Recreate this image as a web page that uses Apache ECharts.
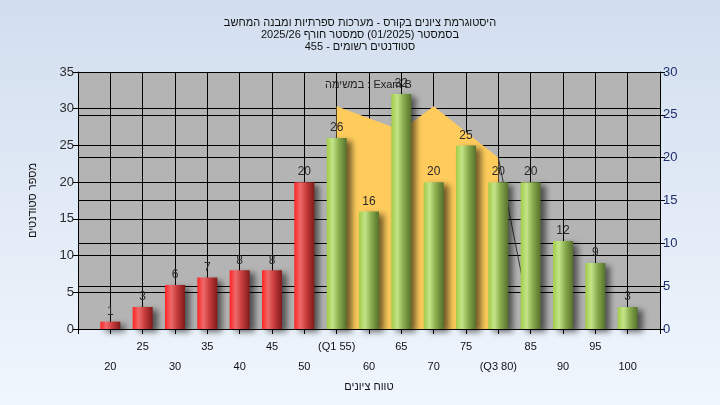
<!DOCTYPE html>
<html>
<head>
<meta charset="utf-8">
<script src="https://cdn.jsdelivr.net/npm/echarts@6/dist/echarts.min.js"></script>
<style>
  html, body { margin: 0; padding: 0; }
  #chart { width: 720px; height: 405px; }
</style>
</head>
<body>
<div id="chart"></div>
<script>
// כותרת
const titleLines = [
  'היסטוגרמת ציונים בקורס - מערכות ספרתיות ומבנה המחשב',
  'בסמסטר (01/2025) סמסטר חורף 2025/26',
  'סטודנטים רשומים - 455'
]
// טווחי ציונים ותוויות ציר X
const scores = [20, 25, 30, 35, 40, 45, 50, 55, 60, 65, 70, 75, 80, 85, 90, 95, 100]
const scoreLabels = ['20', '25', '30', '35', '40', '45', '50', '(Q1 55)', '60', '65', '70', '75', '(Q3 80)', '85', '90', '95', '100']
// מספר סטודנטים בכל טווח
const students = [1, 3, 6, 7, 8, 8, 20, 26, 16, 32, 20, 25, 20, 20, 12, 9, 3]
const passScore = 55
// Exam B (ציר ימני)
const examName = 'במשימה : Exam B'
const examScores = [55, 65, 70, 80]
const examValues = [26, 23.2, 26, 20]
const tailScores = [80, 85]
const tailValues = [20, 1]

const font = "'Liberation Sans', 'DejaVu Sans', sans-serif"

const redBar = new echarts.graphic.LinearGradient(0, 0, 1, 0, [
  { offset: 0, color: '#ff2424' },
  { offset: 0.3, color: '#ee6a6a' },
  { offset: 0.6, color: '#c83c3c' },
  { offset: 1, color: '#7e1a1a' }
])
const greenBar = new echarts.graphic.LinearGradient(0, 0, 1, 0, [
  { offset: 0, color: '#a2cc48' },
  { offset: 0.3, color: '#c4e488' },
  { offset: 0.6, color: '#8aae4e' },
  { offset: 1, color: '#56702c' }
])

const chart = echarts.init(document.getElementById('chart'))
chart.setOption({
  backgroundColor: new echarts.graphic.LinearGradient(0, 0, 0, 1, [
    { offset: 0, color: '#d2deef' },
    { offset: 1, color: '#f0f6fd' }
  ]),
  textStyle: { fontFamily: font },
  animation: false,
  title: {
    text: titleLines.join('\n'),
    left: 'center',
    top: 12,
    textStyle: { fontSize: 11, fontWeight: 'normal', color: '#111', lineHeight: 12, fontFamily: font }
  },
  legend: {
    data: [{ name: examName, icon: 'none' }],
    left: 315,
    top: 73,
    itemWidth: 0,
    selectedMode: false,
    textStyle: { fontSize: 11, color: '#222', fontFamily: font }
  },
  grid: {
    left: 78,
    right: 60,
    top: 72,
    bottom: 76,
    show: true,
    backgroundColor: '#b4b4b4',
    borderWidth: 0
  },
  xAxis: {
    type: 'value',
    min: 15,
    max: 105,
    interval: 5,
    name: 'טווח ציונים',
    nameLocation: 'middle',
    nameGap: 45,
    nameTextStyle: { fontSize: 11, color: '#111' },
    axisLine: { lineStyle: { color: '#000', width: 1 } },
    axisTick: { length: 5, lineStyle: { color: '#000' } },
    splitLine: { show: true, lineStyle: { color: '#000', width: 1 } },
    axisLabel: {
      margin: 8,
      fontSize: 11,
      lineHeight: 20,
      color: '#111',
      formatter: function (v) {
        const i = scores.indexOf(v)
        if (i < 0) return ''
        return i % 2 === 1 ? scoreLabels[i] : '\n' + scoreLabels[i]
      }
    }
  },
  yAxis: [
    {
      type: 'value',
      min: 0,
      max: 35,
      interval: 5,
      name: 'מספר סטודנטים',
      nameLocation: 'middle',
      nameGap: 40,
      nameTextStyle: { fontSize: 11, color: '#111' },
      axisLine: { show: true, lineStyle: { color: '#000' } },
      axisTick: { show: true, length: 5, lineStyle: { color: '#000' } },
      splitLine: { lineStyle: { color: '#000', width: 1 } },
      axisLabel: { fontSize: 13, color: '#2a2a2a', margin: 4 }
    },
    {
      type: 'value',
      position: 'right',
      min: 0,
      max: 30,
      interval: 5,
      axisLine: { show: true, lineStyle: { color: '#000' } },
      axisTick: { show: true, length: 5, lineStyle: { color: '#000' } },
      splitLine: { show: true, lineStyle: { color: '#000', width: 1 } },
      axisLabel: { fontSize: 13, color: '#1e2f6a', margin: 3 }
    }
  ],
  series: [
    {
      name: examName,
      type: 'line',
      yAxisIndex: 1,
      z: 1,
      symbol: 'none',
      lineStyle: { width: 0 },
      areaStyle: { color: '#ffcc5c', opacity: 1 },
      data: examScores.map((s, i) => [s, examValues[i]])
    },
    {
      name: 'tail',
      type: 'line',
      yAxisIndex: 1,
      z: 1,
      symbol: 'none',
      lineStyle: { width: 1, color: '#333' },
      data: tailScores.map((s, i) => [s, tailValues[i]])
    },
    {
      name: 'students',
      type: 'bar',
      z: 3,
      barWidth: 20,
      data: scores.map((s, i) => [s, students[i]]),
      itemStyle: {
        color: p => (p.value[0] < passScore ? redBar : greenBar),
        shadowColor: 'rgba(0,0,0,0.55)',
        shadowBlur: 6,
        shadowOffsetX: 5,
        shadowOffsetY: 3
      },
      label: {
        show: true,
        position: 'top',
        distance: 4,
        fontSize: 12,
        color: '#2a2a2a',
        formatter: p => p.value[1]
      }
    }
  ]
})
</script>
</body>
</html>
